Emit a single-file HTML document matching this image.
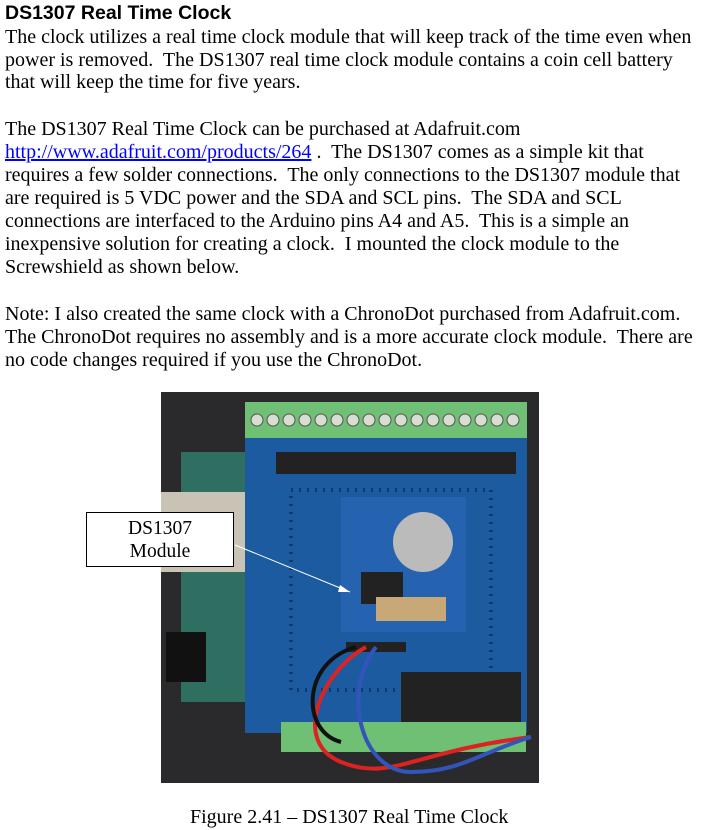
<!DOCTYPE html>
<html><head><style>
body{margin:0;width:728px;height:830px;background:#fff;position:relative;overflow:hidden}
.t{position:absolute;left:5px;font-family:"Liberation Serif",serif;font-size:20px;white-space:nowrap;color:#000;line-height:22px}
h1{position:absolute;left:5px;top:2px;margin:0;font-family:"Liberation Sans",sans-serif;font-size:19.5px;font-weight:bold;line-height:22px}
a{color:#00f;text-decoration:underline}
</style></head><body>
<h1>DS1307 Real Time Clock</h1>
<div class="t" style="top:26px">The clock utilizes a real time clock module that will keep track of the time even when</div>
<div class="t" style="top:49px">power is removed.&nbsp; The DS1307 real time clock module contains a coin cell battery</div>
<div class="t" style="top:71px">that will keep the time for five years.</div>
<div class="t" style="top:118px">The DS1307 Real Time Clock can be purchased at Adafruit.com</div>
<div class="t" style="top:141px"><a>http://www.adafruit.com/products/264</a> .&nbsp; The DS1307 comes as a simple kit that</div>
<div class="t" style="top:164px">requires a few solder connections.&nbsp; The only connections to the DS1307 module that</div>
<div class="t" style="top:187px">are required is 5 VDC power and the SDA and SCL pins.&nbsp; The SDA and SCL</div>
<div class="t" style="top:210px">connections are interfaced to the Arduino pins A4 and A5.&nbsp; This is a simple an</div>
<div class="t" style="top:233px">inexpensive solution for creating a clock.&nbsp; I mounted the clock module to the</div>
<div class="t" style="top:256px">Screwshield as shown below.</div>
<div class="t" style="top:303px">Note: I also created the same clock with a ChronoDot purchased from Adafruit.com.</div>
<div class="t" style="top:326px">The ChronoDot requires no assembly and is a more accurate clock module.&nbsp; There are</div>
<div class="t" style="top:349px">no code changes required if you use the ChronoDot.</div>

<svg style="position:absolute;left:161px;top:392px" width="378" height="391" viewBox="0 0 378 391">
<rect width="378" height="391" fill="#2a2a2c"/>
<rect x="20" y="60" width="70" height="250" fill="#2f6f62"/>
<rect x="-2" y="100" width="90" height="80" fill="#c9c3b5"/>
<rect x="5" y="240" width="40" height="50" fill="#111"/>
<rect x="84" y="45" width="282" height="296" fill="#1d5ba0"/>
<rect x="84" y="10" width="282" height="36" fill="#6fbf74"/>
<g fill="#d9ded5" stroke="#555" stroke-width="1">
<circle cx="96" cy="28" r="6"/><circle cx="112" cy="28" r="6"/><circle cx="128" cy="28" r="6"/><circle cx="144" cy="28" r="6"/><circle cx="160" cy="28" r="6"/><circle cx="176" cy="28" r="6"/><circle cx="192" cy="28" r="6"/><circle cx="208" cy="28" r="6"/><circle cx="224" cy="28" r="6"/><circle cx="240" cy="28" r="6"/><circle cx="256" cy="28" r="6"/><circle cx="272" cy="28" r="6"/><circle cx="288" cy="28" r="6"/><circle cx="304" cy="28" r="6"/><circle cx="320" cy="28" r="6"/><circle cx="336" cy="28" r="6"/><circle cx="352" cy="28" r="6"/>
</g>
<rect x="115" y="60" width="240" height="22" fill="#222"/>
<rect x="130" y="98" width="200" height="200" fill="#1d5ba0" stroke="#0d3a70" stroke-dasharray="2 6" stroke-width="4"/>
<rect x="180" y="105" width="125" height="135" fill="#2563b0"/>
<circle cx="262" cy="150" r="30" fill="#bbb"/>
<rect x="200" y="180" width="42" height="32" fill="#222"/>
<rect x="215" y="205" width="70" height="24" fill="#c9a877"/>
<rect x="185" y="250" width="60" height="10" fill="#222"/>
<rect x="240" y="280" width="120" height="50" fill="#222"/>
<rect x="120" y="330" width="245" height="30" fill="#6fbf74"/>
<path d="M205 255 C160 280 130 350 180 370 S250 360 370 345" stroke="#d22" stroke-width="4" fill="none"/>
<path d="M215 255 C180 300 200 380 250 380 S320 360 370 345" stroke="#3355bb" stroke-width="4" fill="none"/>
<path d="M195 255 C140 270 140 340 180 350" stroke="#111" stroke-width="4" fill="none"/>
</svg>
<div style="position:absolute;left:86px;top:512px;width:148px;height:55px;border:1px solid #000;background:#fff;font-family:'Liberation Serif',serif;font-size:19.5px;text-align:center;line-height:23px;padding-top:4px;box-sizing:border-box">DS1307<br>Module</div>
<svg style="position:absolute;left:0;top:0" width="728" height="830"><line x1="235" y1="545" x2="350" y2="592" stroke="#fff" stroke-width="1"/><polygon points="350,592 340,585 338,592" fill="#fff"/></svg>
<div class="t" style="top:806px;left:190px">Figure 2.41 – DS1307 Real Time Clock</div>
</body></html>
